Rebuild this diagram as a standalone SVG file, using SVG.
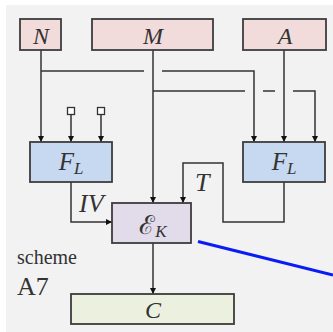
<svg xmlns="http://www.w3.org/2000/svg" width="333" height="332" viewBox="0 0 333 332">
  <style>
    .box { stroke: #3c3c3c; stroke-width: 1.8; }
    .in { fill: #f2dcdb; }
    .fl { fill: #c6d9f1; }
    .ek { fill: #e2dbea; }
    .out { fill: #ebf1de; }
    .math { font-family: "Liberation Serif", "DejaVu Serif", serif; font-style: italic; fill: #333; }
    .wire { fill: none; stroke: #333; stroke-width: 1.5; }
    .arr { marker-end: url(#ah); }
    .plain { font-family: "Liberation Serif", serif; fill: #333; }
  </style>
  <defs>
    <marker id="ah" viewBox="0 0 10 10" refX="10" refY="5" markerWidth="6" markerHeight="7" markerUnits="userSpaceOnUse" orient="auto">
      <path d="M0,0 L10,5 L0,10 z" fill="#111"/>
    </marker>
  </defs>
  <rect x="6" y="5" width="327" height="327" fill="#f2f2f2"/>

  <g id="connectors">
    <!-- N to both F_L blocks -->
    <path class="wire arr" d="M41,50 V142"/>
    <path class="wire" d="M41,71 H144"/>
    <path class="wire arr" d="M162,71 H254 V142"/>
    <!-- M to E_K and right F_L -->
    <path class="wire arr" d="M153,50 V203"/>
    <path class="wire" d="M153,91 H245"/>
    <path class="wire" d="M263,91 H275"/>
    <path class="wire arr" d="M293,91 H315 V142"/>
    <!-- A to right F_L -->
    <path class="wire arr" d="M284,50 V142"/>
    <!-- constant inputs -->
    <path class="wire arr" d="M71,115 V142"/>
    <path class="wire arr" d="M101,115 V142"/>
    <rect x="67.5" y="107.5" width="7" height="7" fill="#fff" stroke="#333" stroke-width="1.3"/>
    <rect x="97.5" y="107.5" width="7" height="7" fill="#fff" stroke="#333" stroke-width="1.3"/>
    <!-- IV -->
    <path class="wire arr" d="M71,182 V222 H112"/>
    <!-- T -->
    <path class="wire arr" d="M284,182 V222 H223 V163 H183 V203"/>
    <!-- E_K to C -->
    <path class="wire arr" d="M153,243 V294"/>
    <!-- pointer line -->
    <path d="M198,241.5 L333,275" stroke="#0a1cf5" stroke-width="3" fill="none"/>
  </g>

  <g id="node-N">
    <rect class="box in" x="20" y="19" width="41" height="31"/>
    <text class="math" x="41" y="44" font-size="24" text-anchor="middle">N</text>
  </g>
  <g id="node-M">
    <rect class="box in" x="92" y="19" width="121" height="31"/>
    <text class="math" x="153" y="44" font-size="24" text-anchor="middle">M</text>
  </g>
  <g id="node-A">
    <rect class="box in" x="243" y="19" width="83" height="31"/>
    <text class="math" x="285" y="44" font-size="24" text-anchor="middle">A</text>
  </g>
  <g id="node-FL-left">
    <rect class="box fl" x="30" y="142" width="82" height="40"/>
    <text class="math" x="71" y="170" font-size="25" text-anchor="middle">F<tspan font-size="17" dy="4">L</tspan></text>
  </g>
  <g id="node-FL-right">
    <rect class="box fl" x="243" y="142" width="82" height="40"/>
    <text class="math" x="284" y="170" font-size="25" text-anchor="middle">F<tspan font-size="17" dy="4">L</tspan></text>
  </g>
  <g id="node-EK">
    <rect class="box ek" x="112" y="203" width="79" height="40"/>
    <text class="math" x="153" y="234" font-size="26" text-anchor="middle"><tspan font-family="DejaVu Serif, serif" font-style="normal">ℰ</tspan><tspan font-size="17" dy="3">K</tspan></text>
  </g>
  <g id="node-C">
    <rect class="box out" x="71" y="294" width="163" height="30"/>
    <text class="math" x="153" y="318" font-size="24" text-anchor="middle">C</text>
  </g>

  <text class="math" x="79" y="212" font-size="26">IV</text>
  <text class="math" x="195" y="191" font-size="26">T</text>
  <text class="plain" x="17" y="264" font-size="20">scheme</text>
  <text class="plain" x="17" y="295" font-size="26">A7</text>
</svg>
